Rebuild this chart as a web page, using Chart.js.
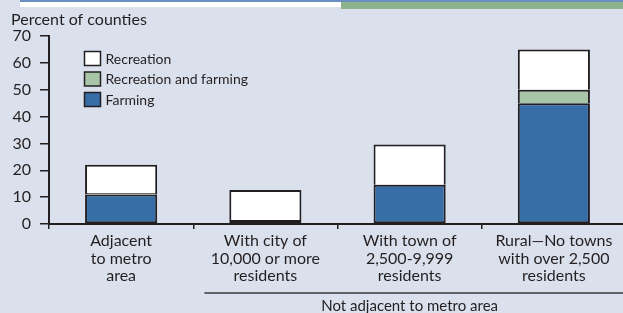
<!DOCTYPE html>
<html lang="en">
<head>
  <meta charset="UTF-8">
  <title>Percent of counties</title>
  <script src="https://cdn.jsdelivr.net/npm/chart.js"></script>
  <style>
    html, body { margin: 0; padding: 0; overflow: hidden; background: #dbe0ed; }
    .band-blue { position: absolute; left: 20px; top: 0; width: 603px; height: 2px; background: #6b8fc1; }
    .band-white { position: absolute; left: 20px; top: 2px; width: 321px; height: 5px; background: #ffffff; }
    .band-green { position: absolute; left: 341px; top: 2px; width: 282px; height: 7px; background: #8db38c; }
    .wrap { position: absolute; left: 0; top: 0; width: 640px; height: 313px; }
  </style>
</head>
<body>
<div class="band-blue"></div>
<div class="band-white"></div>
<div class="band-green"></div>
<div class="wrap"><canvas id="chart"></canvas></div>

<script>
  // values
  const categories = [
    ['Adjacent', 'to metro', 'area'],
    ['With city of', '10,000 or more', 'residents'],
    ['With town of', '2,500-9,999', 'residents'],
    ['Rural\u2014No towns', 'with over 2,500', 'residents']
  ];
  const farming = [11, 1.5, 14.6, 45];
  const recAndFarming = [0.5, 0, 0, 5];
  const recreation = [10.6, 11.2, 15, 15];
  const yTicks = [0, 10, 20, 30, 40, 50, 60, 70];
  const groupLabel = 'Not adjacent to metro area';

  const ink = '#231f20';
  const font = 'Lato, "Open Sans", sans-serif';

  // legend drawn inside the plot, top first
  const legendInside = {
    id: 'legendInside',
    afterDraw(chart) {
      const ctx = chart.ctx, area = chart.chartArea;
      const sets = chart.data.datasets.slice().reverse();
      ctx.save();
      ctx.font = '14px ' + font;
      ctx.textBaseline = 'middle';
      sets.forEach((ds, i) => {
        const x = area.left + 35.5, y = area.top + 15.5 + i * 20.5;
        ctx.fillStyle = ds.backgroundColor;
        ctx.fillRect(x, y, 16, 14);
        ctx.lineWidth = 1.5;
        ctx.strokeStyle = ink;
        ctx.strokeRect(x, y, 16, 14);
        ctx.fillStyle = ink;
        ctx.fillText(ds.label, x + 21, y + 7.5);
      });
      ctx.restore();
    }
  };

  // bracket under the three non-adjacent groups
  const groupBracket = {
    id: 'groupBracket',
    afterDraw(chart) {
      const ctx = chart.ctx, xs = chart.scales.x;
      const x0 = xs.getPixelForValue(1) - 61;
      const mid = (xs.getPixelForValue(1) + xs.getPixelForValue(3)) / 2;
      const y = xs.top + 69;
      ctx.save();
      ctx.strokeStyle = '#3a3a3a';
      ctx.lineWidth = 1.5;
      ctx.beginPath();
      ctx.moveTo(x0, y);
      ctx.lineTo(chart.width, y);
      ctx.stroke();
      ctx.fillStyle = ink;
      ctx.font = '15px ' + font;
      ctx.textAlign = 'center';
      ctx.textBaseline = 'alphabetic';
      ctx.fillText(groupLabel, mid, y + 17.5);
      ctx.restore();
    }
  };

  new Chart(document.getElementById('chart'), {
    type: 'bar',
    data: {
      labels: categories,
      datasets: [
        { label: 'Farming', data: farming, backgroundColor: '#386ea8',
          borderColor: ink, borderWidth: 2, borderSkipped: false },
        { label: 'Recreation and farming', data: recAndFarming, backgroundColor: '#a9c5a7',
          borderColor: ink, borderWidth: 2, borderSkipped: 'bottom' },
        { label: 'Recreation', data: recreation, backgroundColor: '#ffffff',
          borderColor: ink, borderWidth: 2, borderSkipped: 'bottom' }
      ]
    },
    options: {
      responsive: true,
      maintainAspectRatio: false,
      animation: false,
      layout: { padding: { left: 11, right: 14, top: 0, bottom: 0 } },
      datasets: { bar: { barPercentage: 0.5, categoryPercentage: 1.0 } },
      plugins: {
        legend: { display: false },
        tooltip: { enabled: false },
        title: {
          display: true,
          text: 'Percent of counties',
          align: 'start',
          color: ink,
          font: { family: font, size: 16, weight: 'normal' },
          padding: { top: 10, bottom: 6.8 }
        }
      },
      scales: {
        x: {
          stacked: true,
          offset: true,
          afterFit: s => { s.height = 89; },
          grid: { drawOnChartArea: false, tickLength: 5, color: ink, lineWidth: 1.5 },
          border: { color: ink, width: 2 },
          ticks: { color: ink, padding: 3, maxRotation: 0, autoSkip: false,
            font: { family: font, size: 16, lineHeight: 1.1 } }
        },
        y: {
          stacked: true,
          min: 0,
          max: 70,
          afterFit: s => { s.width = 38; },
          afterBuildTicks: s => { s.ticks = yTicks.map(v => ({ value: v })); },
          grid: { drawOnChartArea: false, tickLength: 9, color: ink, lineWidth: 1.5 },
          border: { color: ink, width: 2 },
          ticks: { color: ink, padding: 9, font: { family: font, size: 16 } }
        }
      }
    },
    plugins: [legendInside, groupBracket]
  });
</script>
</body>
</html>
